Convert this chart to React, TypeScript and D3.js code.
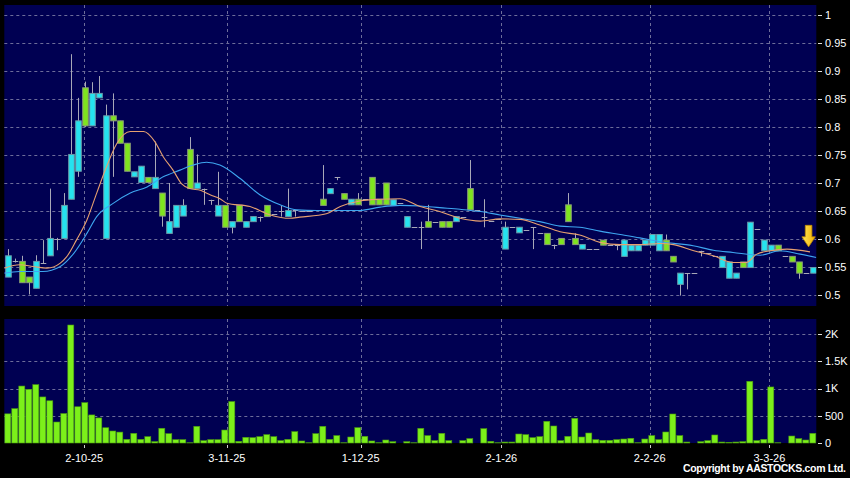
import React from "react";
import * as d3 from "d3";

// ---- data ----
const opens = [
  0.532, 0.56, 0.56, 0.532, 0.512, 0.558, 0.57, 0.6, 0.601, 0.671,
  0.721, 0.87, 0.802, 0.852, 0.601, 0.82, 0.811, 0.771, 0.711, 0.701,
  0.71, 0.69, 0.682, 0.61, 0.621, 0.641, 0.76, 0.69, 0.69, 0.67,
  0.641, 0.66, 0.621, 0.66, 0.621, 0.631, 0.64, 0.66, 0.645, 0.65,
  0.64, 0.651, 0.65, 0.65, 0.652, 0.671, 0.681, 0.71, 0.681, 0.661,
  0.671, 0.671, 0.71, 0.671, 0.7, 0.66, 0.665, 0.621, 0.621, 0.621,
  0.631, 0.631, 0.631, 0.631, 0.631, 0.64, 0.69, 0.651, 0.64, 0.632,
  0.636, 0.582, 0.621, 0.611, 0.616, 0.621, 0.61, 0.61, 0.59, 0.601,
  0.661, 0.601, 0.582, 0.582, 0.582, 0.598, 0.589, 0.589, 0.569, 0.579,
  0.579, 0.589, 0.589, 0.579, 0.598, 0.569, 0.519, 0.539, 0.539, 0.579,
  0.575, 0.57, 0.549, 0.53, 0.53, 0.559, 0.549, 0.618, 0.579, 0.579,
  0.589, 0.569, 0.569, 0.559, 0.539, 0.539,
];
const highs = [
  0.582, 0.565, 0.57, 0.532, 0.571, 0.598, 0.69, 0.602, 0.682, 0.93,
  0.852, 0.881, 0.88, 0.891, 0.84, 0.86, 0.811, 0.771, 0.72, 0.73,
  0.71, 0.774, 0.682, 0.7, 0.66, 0.671, 0.782, 0.751, 0.69, 0.67,
  0.72, 0.66, 0.631, 0.66, 0.631, 0.64, 0.64, 0.66, 0.645, 0.66,
  0.69, 0.651, 0.65, 0.65, 0.652, 0.732, 0.69, 0.71, 0.681, 0.671,
  0.682, 0.671, 0.71, 0.671, 0.7, 0.67, 0.665, 0.64, 0.621, 0.631,
  0.661, 0.631, 0.631, 0.631, 0.64, 0.64, 0.741, 0.651, 0.671, 0.632,
  0.636, 0.631, 0.621, 0.621, 0.616, 0.621, 0.61, 0.61, 0.59, 0.601,
  0.682, 0.61, 0.59, 0.582, 0.582, 0.598, 0.589, 0.589, 0.598, 0.589,
  0.589, 0.598, 0.608, 0.608, 0.608, 0.569, 0.539, 0.539, 0.539, 0.579,
  0.575, 0.57, 0.569, 0.559, 0.539, 0.559, 0.63, 0.618, 0.598, 0.589,
  0.589, 0.569, 0.569, 0.559, 0.539, 0.549,
];
const lows = [
  0.532, 0.558, 0.522, 0.501, 0.512, 0.556, 0.57, 0.58, 0.601, 0.671,
  0.711, 0.8, 0.802, 0.852, 0.601, 0.711, 0.771, 0.721, 0.711, 0.701,
  0.701, 0.69, 0.622, 0.61, 0.621, 0.641, 0.69, 0.69, 0.661, 0.661,
  0.641, 0.621, 0.61, 0.631, 0.621, 0.631, 0.631, 0.64, 0.645, 0.64,
  0.64, 0.64, 0.65, 0.65, 0.652, 0.66, 0.681, 0.705, 0.671, 0.661,
  0.661, 0.671, 0.661, 0.661, 0.661, 0.66, 0.665, 0.621, 0.621, 0.582,
  0.621, 0.631, 0.621, 0.621, 0.631, 0.64, 0.652, 0.651, 0.621, 0.632,
  0.636, 0.582, 0.621, 0.611, 0.616, 0.582, 0.61, 0.59, 0.582, 0.59,
  0.631, 0.59, 0.582, 0.582, 0.582, 0.589, 0.589, 0.58, 0.569, 0.579,
  0.579, 0.589, 0.589, 0.579, 0.579, 0.559, 0.499, 0.51, 0.539, 0.569,
  0.575, 0.57, 0.549, 0.53, 0.53, 0.549, 0.549, 0.618, 0.579, 0.579,
  0.579, 0.569, 0.559, 0.529, 0.539, 0.539,
];
const closes = [
  0.57, 0.56, 0.522, 0.522, 0.56, 0.558, 0.601, 0.6, 0.66, 0.751,
  0.811, 0.802, 0.86, 0.86, 0.82, 0.811, 0.771, 0.721, 0.72, 0.73,
  0.701, 0.71, 0.641, 0.631, 0.66, 0.66, 0.69, 0.7, 0.69, 0.67,
  0.66, 0.621, 0.631, 0.631, 0.631, 0.64, 0.64, 0.64, 0.645, 0.65,
  0.651, 0.651, 0.65, 0.65, 0.652, 0.66, 0.69, 0.71, 0.671, 0.671,
  0.661, 0.671, 0.661, 0.661, 0.661, 0.67, 0.665, 0.64, 0.621, 0.621,
  0.621, 0.631, 0.621, 0.621, 0.64, 0.64, 0.652, 0.651, 0.64, 0.632,
  0.636, 0.621, 0.621, 0.621, 0.616, 0.621, 0.61, 0.59, 0.59, 0.59,
  0.631, 0.59, 0.59, 0.582, 0.582, 0.589, 0.589, 0.589, 0.598, 0.589,
  0.589, 0.598, 0.608, 0.608, 0.579, 0.559, 0.539, 0.539, 0.539, 0.579,
  0.575, 0.57, 0.569, 0.559, 0.539, 0.549, 0.63, 0.618, 0.598, 0.589,
  0.579, 0.569, 0.559, 0.539, 0.539, 0.549,
];
const volumes = [
  535, 630, 1045, 985, 1070, 845, 775, 385, 540, 2165,
  665, 740, 515, 460, 280, 220, 200, 67, 177, 67,
  116, 25, 270, 171, 61, 61, 5, 306, 43, 61,
  61, 238, 760, 31, 104, 98, 116, 153, 116, 43,
  67, 208, 37, 5, 171, 306, 67, 135, 5, 110,
  281, 122, 37, 5, 55, 24, 0, 24, 5, 269,
  135, 43, 177, 43, 0, 43, 80, 0, 263, 31,
  5, 18, 18, 165, 153, 98, 116, 398, 312, 43,
  122, 453, 110, 183, 61, 49, 49, 61, 73, 86,
  5, 73, 135, 61, 202, 532, 135, 18, 0, 24,
  43, 147, 18, 12, 18, 24, 1132, 43, 67, 1028,
  5, 0, 128, 80, 55, 177,
];
// moving averages: [candle index, value]
const maShort: [number, number][] = [
  [-0.5, 0.548], [1.7, 0.554], [3.6, 0.551], [5.6, 0.548], [7.5, 0.557], [8.4, 0.568],
  [9.8, 0.598], [11.3, 0.634], [12.7, 0.682], [14.1, 0.729], [15.6, 0.771], [17.5, 0.792],
  [19.4, 0.792], [21, 0.774], [22.2, 0.747], [23.6, 0.723], [24.8, 0.699], [26, 0.69],
  [27.5, 0.687], [28.9, 0.679], [30.3, 0.672], [31.3, 0.664], [34.6, 0.658], [37.5, 0.643],
  [40.3, 0.637], [41.7, 0.639], [45.5, 0.645], [47.5, 0.658], [50.3, 0.668], [53.2, 0.671],
  [56, 0.672], [58.9, 0.658], [61.7, 0.649], [64.6, 0.637], [67.5, 0.632], [70.3, 0.636],
  [73.2, 0.635], [76, 0.625], [78.9, 0.613], [81.7, 0.607], [84.6, 0.594], [87.5, 0.59],
  [90.3, 0.59], [93.2, 0.592], [95.1, 0.59], [98, 0.579], [100.8, 0.57], [103.6, 0.558],
  [105.5, 0.558], [107, 0.573], [108.9, 0.579], [111.3, 0.582], [114.6, 0.577],
];
const maLong: [number, number][] = [
  [-0.5, 0.539], [1.7, 0.542], [5, 0.542], [7.5, 0.551], [9.4, 0.574], [11.3, 0.61],
  [12.7, 0.64], [15.1, 0.664], [17.5, 0.682], [19.9, 0.693], [22.2, 0.711], [24.6, 0.723],
  [26.5, 0.732], [28.4, 0.737], [30.3, 0.732], [33.2, 0.708], [36, 0.679], [38.9, 0.661],
  [41.3, 0.652], [44.2, 0.651], [47.5, 0.651], [50.3, 0.651], [53.2, 0.657], [56, 0.66],
  [58.9, 0.659], [61.7, 0.656], [64.6, 0.653], [67.5, 0.649], [70.3, 0.643], [73.2, 0.637],
  [76, 0.631], [78.9, 0.623], [81.7, 0.621], [84.6, 0.614], [87.5, 0.608], [90.3, 0.602],
  [93.2, 0.595], [97.9, 0.588], [100.8, 0.58], [103.6, 0.576], [107.5, 0.571], [110.3, 0.579],
  [113.2, 0.573], [115.5, 0.567],
];
const priceTicks = [0.5, 0.55, 0.6, 0.65, 0.7, 0.75, 0.8, 0.85, 0.9, 0.95, 1];
const priceTickLabels = ["0.5", "0.55", "0.6", "0.65", "0.7", "0.75", "0.8", "0.85", "0.9", "0.95", "1"];
const volTicks = [0, 500, 1000, 1500, 2000];
const volTickLabels = ["0", "500", "1K", "1.5K", "2K"];
const dateTickPos = [10.9, 31.3, 50.4, 70.5, 91.7, 108.8];
const dateTickLabels = ["2-10-25", "3-11-25", "1-12-25", "2-1-26", "2-2-26", "3-3-26"];
// marker arrow: candle position and price of its tip
const arrowIndex = 114.4;
const arrowPrice = 0.586;

// ---- layout ----
const W = 850, H = 478;
const PL = 4.3, PR = 816.3;
const PT = 5, PB = 306;
const VT = 319, VB = 443;
const FONT = "'Liberation Sans', Arial, sans-serif";
const CYAN = "#25e3ef";
const GREEN = "#7fe41e";
const VOLG = "#7cf01a";
const NAVY = "#000052";
const GRID = "#6d6d9a";

export default function App() {
  const n = closes.length;
  const x = d3.scaleLinear().domain([-0.5, n - 0.5]).range([PL, PR]);
  const y = d3.scaleLinear().domain([0.5, 1]).range([295, 15]);
  const yv = d3.scaleLinear().domain([0, 2000]).range([VB, 334]);
  const step = x(1) - x(0);
  const bw = step - 1.4;

  const line = d3
    .line<[number, number]>()
    .x((d) => x(d[0]))
    .y((d) => y(d[1]))
    .curve(d3.curveMonotoneX);

  const ax = x(arrowIndex);
  const at = y(arrowPrice);

  return (
    <svg
      width={W}
      height={H}
      style={{ position: "fixed", left: 0, top: 0, display: "block" }}
      fontFamily={FONT}
    >
      <defs>
        <clipPath id="pclip">
          <rect x={PL} y={PT} width={PR - PL} height={PB - PT} />
        </clipPath>
        <linearGradient id="arrowGrad" x1="0" x2="1" y1="0" y2="0">
          <stop offset="0" stopColor="#ffe55a" />
          <stop offset="1" stopColor="#f0b000" />
        </linearGradient>
      </defs>
      <rect x={0} y={0} width={W} height={H} fill="#000" />
      <rect x={PL} y={PT} width={PR - PL} height={PB - PT} fill={NAVY} />
      <rect x={PL} y={VT} width={PR - PL} height={VB - VT} fill={NAVY} />

      {/* grid */}
      {priceTicks.map((t) => (
        <line key={"pg" + t} x1={PL} x2={PR} y1={Math.round(y(t)) + 0.5} y2={Math.round(y(t)) + 0.5}
          stroke={GRID} strokeDasharray="3,3" strokeWidth={1} />
      ))}
      {volTicks.slice(1).map((t) => (
        <line key={"vg" + t} x1={PL} x2={PR} y1={Math.round(yv(t)) + 0.5} y2={Math.round(yv(t)) + 0.5}
          stroke={GRID} strokeDasharray="3,3" strokeWidth={1} />
      ))}
      {dateTickPos.map((p) => (
        <g key={"dg" + p}>
          <line x1={Math.round(x(p)) + 0.5} x2={Math.round(x(p)) + 0.5} y1={PT} y2={PB}
            stroke={GRID} strokeDasharray="3,3" />
          <line x1={Math.round(x(p)) + 0.5} x2={Math.round(x(p)) + 0.5} y1={VT} y2={VB}
            stroke={GRID} strokeDasharray="3,3" />
        </g>
      ))}

      {/* candles */}
      <g clipPath="url(#pclip)">
        {closes.map((c, i) => {
          const o = opens[i], h = highs[i], l = lows[i];
          const cx = Math.round(x(i)) + 0.5;
          const top = Math.max(o, c), bot = Math.min(o, c);
          const doji = Math.abs(o - c) < 0.0005;
          const up = c > o;
          return (
            <g key={"c" + i}>
              <line x1={cx} x2={cx} y1={y(h)} y2={y(l)} stroke="#a8a8b8" strokeWidth={1} />
              {doji ? (
                <line x1={cx - bw / 2} x2={cx + bw / 2} y1={Math.round(y(c)) + 0.5} y2={Math.round(y(c)) + 0.5}
                  stroke="#a8a8b8" strokeWidth={1} />
              ) : (
                <rect x={cx - bw / 2} y={y(top)} width={bw} height={Math.max(1, y(bot) - y(top))}
                  fill={up ? CYAN : GREEN} stroke={up ? "#6b9aa8" : "#8a9a78"} strokeWidth={1} />
              )}
            </g>
          );
        })}
        <path d={line(maLong) || ""} fill="none" stroke="#3ea6f0" strokeWidth={1.1} />
        <path d={line(maShort) || ""} fill="none" stroke="#e6a070" strokeWidth={1.1} />
      </g>

      {/* arrow */}
      <path
        d={`M${ax - 3.3},${at - 21.5} L${ax + 3.3},${at - 21.5} L${ax + 3.3},${at - 10} L${ax + 6.7},${at - 10} L${ax},${at} L${ax - 6.7},${at - 10} L${ax - 3.3},${at - 10} Z`}
        fill="url(#arrowGrad)" stroke="#c08a00" strokeWidth={0.8}
      />

      {/* volume */}
      {volumes.map((v, i) => (
        <rect key={"v" + i} x={x(i) - step / 2 + 0.5} y={yv(v)} width={step - 1} height={VB - yv(v)}
          fill={VOLG} stroke="#4a9a10" strokeWidth={0.6} />
      ))}

      {/* right axes */}
      {priceTicks.map((t, k) => (
        <g key={"pt" + t}>
          <line x1={818} x2={822} y1={Math.round(y(t)) + 0.5} y2={Math.round(y(t)) + 0.5} stroke="#ddd" />
          <text x={825} y={y(t)} dy="0.35em" fill="#fff" fontSize={11}>{priceTickLabels[k]}</text>
        </g>
      ))}
      {volTicks.map((t, k) => (
        <g key={"vt" + t}>
          <line x1={818} x2={822} y1={Math.round(yv(t)) + 0.5} y2={Math.round(yv(t)) + 0.5} stroke="#ddd" />
          <text x={825} y={yv(t)} dy="0.35em" fill="#fff" fontSize={11}>{volTickLabels[k]}</text>
        </g>
      ))}

      {/* date axis */}
      {dateTickPos.map((p, k) => (
        <g key={"dt" + p}>
          <line x1={Math.round(x(p)) + 0.5} x2={Math.round(x(p)) + 0.5} y1={445} y2={448} stroke="#ccc" />
          <text x={x(p)} y={461.5} textAnchor="middle" fill="#fff" fontSize={11}>
            {dateTickLabels[k]}
          </text>
        </g>
      ))}
      <text x={683} y={472} fill="#fff" fontSize={10.5} fontWeight="bold"
        textLength={163} lengthAdjust="spacing">
        Copyright by AASTOCKS.com Ltd.
      </text>
    </svg>
  );
}
